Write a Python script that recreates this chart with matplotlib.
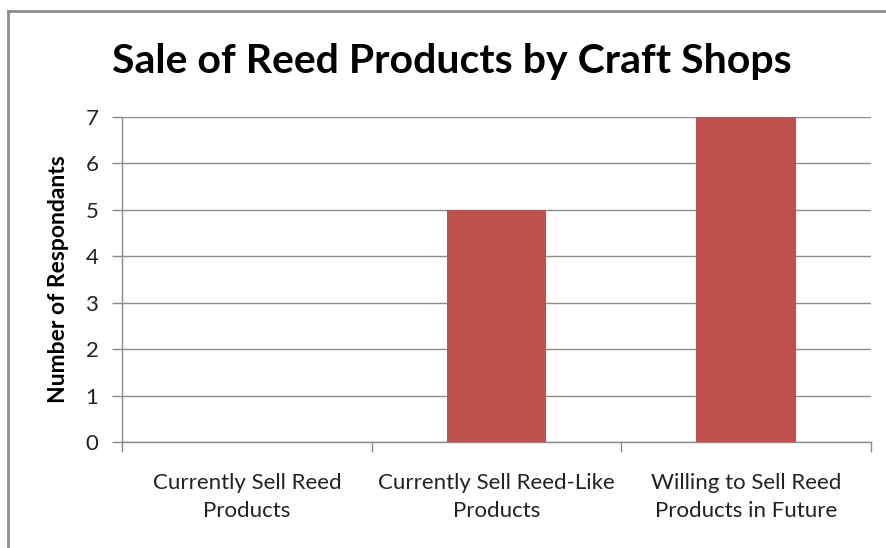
import matplotlib.pyplot as plt
from matplotlib.lines import Line2D

# Survey counts per category
categories = ["Currently Sell Reed\nProducts",
              "Currently Sell Reed-Like\nProducts",
              "Willing to Sell Reed\nProducts in Future"]
respondents = [0, 5, 7]
y_ticks = [0, 1, 2, 3, 4, 5, 6, 7]

bar_color = "#C0504D"
grid_color = "#8C8C8C"

plt.rcParams['font.family'] = ['Lato', 'DejaVu Sans']

fig = plt.figure(figsize=(8.86, 5.48), dpi=100)
ax = fig.add_axes([122 / 886, 1 - 442 / 548, (871 - 122) / 886, (442 - 117) / 548])

x = list(range(len(categories)))
ax.bar(x, respondents, width=0.4, color=bar_color, zorder=3)

ax.set_xlim(-0.5, len(categories) - 0.5)
ax.set_ylim(0, 7)
ax.set_yticks(y_ticks)
ax.set_yticklabels([str(v) for v in y_ticks], fontsize=16)
ax.yaxis.grid(True, color=grid_color, linewidth=1.0, zorder=0)

# category labels centred, tick marks at the category boundaries
ax.set_xticks(x)
ax.set_xticklabels(categories, fontsize=16, color="#222222", linespacing=1.55)
ax.set_xticks([i - 0.5 for i in range(len(categories) + 1)], minor=True)
ax.tick_params(axis='x', which='major', length=0, pad=22)
ax.tick_params(axis='x', which='minor', length=7, color=grid_color, width=1.0)
ax.tick_params(axis='y', length=7, color=grid_color, width=1.0, pad=10, labelcolor="#222222")

for side in ['top', 'right']:
    ax.spines[side].set_visible(False)
for side in ['left', 'bottom']:
    ax.spines[side].set_color(grid_color)
    ax.spines[side].set_linewidth(1.0)

ax.set_ylabel("Number of Respondants", fontsize=16.5, fontweight='bold', labelpad=12)

fig.text(452 / 886, 1 - 62 / 548, "Sale of Reed Products by Craft Shops",
         ha='center', va='center', fontsize=29.5, fontweight='bold')

# chart frame (top and left edges visible)
fig.add_artist(Line2D([8 / 886, 1.0], [1 - 11 / 548, 1 - 11 / 548],
                      transform=fig.transFigure, color="#8C8C8C", linewidth=2))
fig.add_artist(Line2D([8 / 886, 8 / 886], [0.0, 1 - 11 / 548],
                      transform=fig.transFigure, color="#8C8C8C", linewidth=2))

fig.savefig("out.png", dpi=100)
